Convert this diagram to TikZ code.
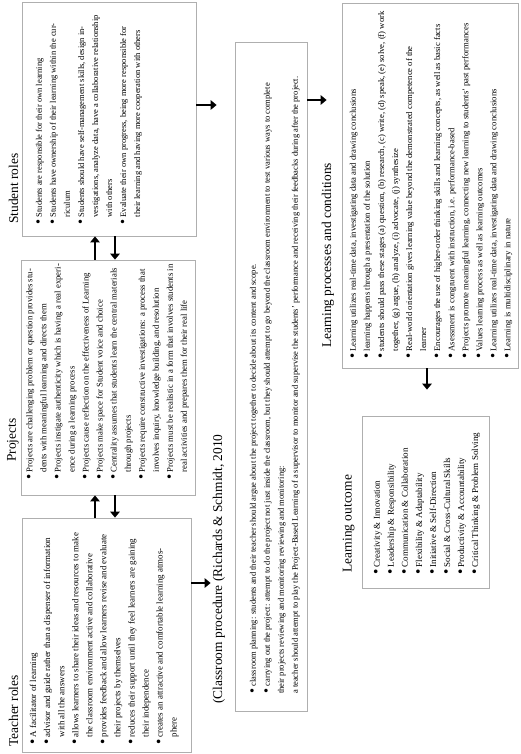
\documentclass[tikz,border=0pt]{standalone}
\usepackage{fontspec}
\setmainfont{Liberation Serif}
\usetikzlibrary{arrows.meta}
\definecolor{boxgray}{RGB}{175,175,175}
\newcommand{\mybul}{\makebox[7.5pt][l]{\raisebox{-1.1pt}{\scalebox{1.7}{\textbullet}}}}
\newcommand{\mycont}{\hspace*{7.5pt}}
\begin{document}
\begin{tikzpicture}[x=1pt,y=-1pt,
  box/.style={draw=boxgray, line width=0.8pt, inner sep=0pt, rectangle, fill=white},
  btext/.style={rotate=90, anchor=north west, inner sep=0pt, align=left, font=\fontsize{#1}{14.05}\selectfont},
  ttl/.style={rotate=90, anchor=base west, inner sep=0pt, font=\fontsize{13.4}{16}\selectfont},
  arr/.style={line width=2.8pt, -{Triangle[length=6pt,width=9.5pt]}}]
\useasboundingbox[fill=white] (0,0) rectangle (520,754);

% boxes
\node[box, minimum width=174pt, minimum height=234pt] (sr) at (109,119) {};
\node[box, minimum width=174pt, minimum height=235pt] (pj) at (108,377.5) {};
\node[box, minimum width=169pt, minimum height=234pt] (tr) at (106.5,635) {};
\node[box, minimum width=72pt, minimum height=669pt] (cp) at (271,376.5) {};
\node[box, minimum width=176pt, minimum height=365pt] (lp) at (430,185.5) {};
\node[box, minimum width=127pt, minimum height=172pt] (lo) at (425.5,502) {};

% titles
\node[ttl] (srT) at (18,224) {Student roles};
\node[ttl] (pjT) at (16,462) {Projects};
\node[ttl] (trT) at (18,747) {Teacher roles};
\node[ttl] (cpT) at (222,704) {(Classroom procedure (Richards \& Schmidt, 2010};
\node[ttl] (lpT) at (331,348) {Learning processes and conditions};
\node[ttl] (loT) at (351.5,573) {Learning outcome};

% texts
\node[btext=8.5] (srX) at (35.7,225) {%
\mybul Students are responsible for their own learning\\
\mybul Students have ownership of their learning within the cur-\\
\mycont riculum\\
\mybul Students should have self-management skills, design in-\\
\mycont vestigations, analyze data, have a collaborative relationship\\
\mycont with others\\
\mybul Evaluate their own progress, being more responsible for\\
\mycont their learning and having more cooperation with others};

\node[btext=8.7] (pjX) at (26.2,480) {%
\mybul Projects are challenging problem or question provides stu-\\
\mycont dents with meaningful learning and directs them\\
\mybul Projects instigate authenticity which is having a real experi-\\
\mycont ence during a learning process\\
\mybul Projects cause reflection on the effectiveness of Learning\\
\mybul Projects make space for Student voice and choice\\
\mybul Centrality assumes that students learn the central materials\\
\mycont through projects\\
\mybul Projects require constructive investigations: a process that\\
\mycont involves inquiry, knowledge building, and resolution\\
\mybul Projects must be realistic in a form that involves students in\\
\mycont real activities and prepares them for their real life};

\node[btext=8.9] (trX) at (29.7,745) {%
\mybul A facilitator of learning\\
\mybul advisor and guide rather than a dispenser of information\\
\mycont with all the answers\\
\mybul allows learners to share their ideas and resources to make\\
\mycont the classroom environment active and collaborative\\
\mybul provides feedback and allow learners revise and evaluate\\
\mycont their projects by themselves\\
\mybul reduces their support until they feel learners are gaining\\
\mycont their independence\\
\mybul creates an attractive and comfortable learning atmos-\\
\mycont phere};

\node[btext=8.5] (cpX) at (249.7,694) {%
\mybul classroom planning: students and their teacher should argue about the project together to decide about its content and scope.\\
\mybul carrying out the project: attempt to do the project not just inside the classroom, but they should attempt to go beyond the classroom environment to test various ways to complete\\
their projects reviewing and monitoring reviewing and monitoring:\\
a teacher should attempt to play the Project-Based Learning of a supervisor to monitor and supervise the students’ performance and receiving their feedbacks during after the project.};

\node[btext=8.65] (lpX) at (349.7,359) {%
\mybul Learning utilizes real-time data, investigating data and drawing conclusions\\
\mybul learning happens through a presentation of the solution\\
\mybul students should pass these stages (a) question, (b) research, (c) write, (d) speak, (e) solve, (f) work\\
\mycont together, (g) argue, (h) analyze, (i) advocate, (j) synthesize\\
\mybul Real-world orientation gives learning value beyond the demonstrated competence of the\\
\mycont learner\\
\mybul Encourages the use of higher-order thinking skills and learning concepts, as well as basic facts\\
\mybul Asessment is congruent with instruction, i.e. performance-based\\
\mybul Projects promote meaningful learning, connecting new learning to students’ past performances\\
\mybul Values learning process as well as learning outcomes\\
\mybul Learning utilizes real-time data, investigating data and drawing conclusions\\
\mybul Learning is multidisciplinary in nature};

\node[btext=9] (loX) at (373.7,575) {%
\mybul Creativity \& Innovation\\
\mybul Leadership \& Responsibility\\
\mybul Communication \& Collaboration\\
\mybul Flexibility \& Adaptability\\
\mybul Initiative \& Self-Direction\\
\mybul Social \& Cross-Cultural Skills\\
\mybul Productivity \& Accountability\\
\mybul Critical Thinking \& Problem Solving};

% arrows
\draw[arr] (pj.north -| 95,0) -- (sr.south -| 95,0);
\draw[arr] (sr.south -| 115,0) -- (pj.north -| 115,0);
\draw[arr] (tr.north -| 95,0) -- (pj.south -| 95,0);
\draw[arr] (pj.south -| 115,0) -- (tr.north -| 115,0);
\draw[arr, shorten >=18pt] (sr.east |- 0,105) -- (cp.west |- 0,105);
\draw[arr, shorten >=24pt] (tr.east |- 0,583) -- (cp.west |- 0,583);
\draw[arr, shorten >=15pt] (cp.east |- 0,100) -- (lp.west |- 0,100);
\draw[arr, shorten >=26pt] (lp.south -| 427,0) -- (lo.north -| 427,0);
\end{tikzpicture}
\end{document}
